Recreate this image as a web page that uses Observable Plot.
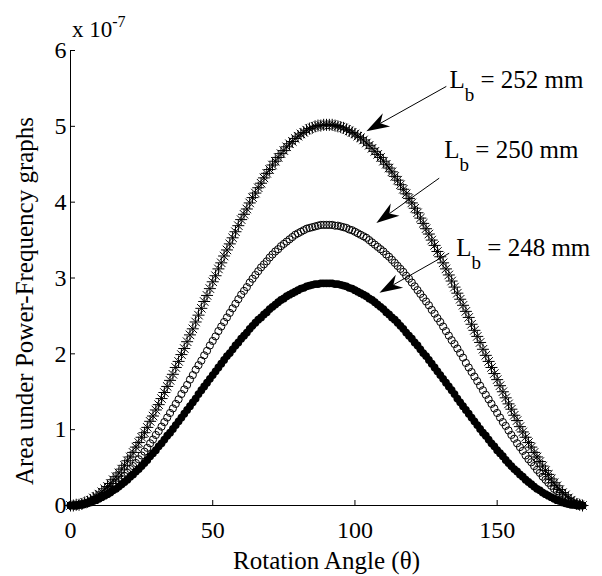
<!DOCTYPE html>
<html>
<head>
<meta charset="utf-8">
<script src="https://cdn.jsdelivr.net/npm/d3@7"></script>
<script src="https://cdn.jsdelivr.net/npm/@observablehq/plot@0.6"></script>
<style>
  html, body { margin: 0; padding: 0; background: #fff; }
  #chart svg { display: block; }
  #chart svg text { font-family: 'Liberation Serif', 'Times New Roman', serif !important; }
</style>
</head>
<body>
<div id="chart"></div>
<script>
// Rotation angle (degrees)
const angles = [0,1,2,3,4,5,6,7,8,9,10,11,12,13,14,15,16,17,18,19,20,21,22,23,24,25,26,27,28,29,30,31,32,33,34,35,36,37,38,39,40,41,42,43,44,45,46,47,48,49,50,51,52,53,54,55,56,57,58,59,60,61,62,63,64,65,66,67,68,69,70,71,72,73,74,75,76,77,78,79,80,81,82,83,84,85,86,87,88,89,90,91,92,93,94,95,96,97,98,99,100,101,102,103,104,105,106,107,108,109,110,111,112,113,114,115,116,117,118,119,120,121,122,123,124,125,126,127,128,129,130,131,132,133,134,135,136,137,138,139,140,141,142,143,144,145,146,147,148,149,150,151,152,153,154,155,156,157,158,159,160,161,162,163,164,165,166,167,168,169,170,171,172,173,174,175,176,177,178,179,180];

// Area under Power-Frequency graphs (x 1e-7)
const lb252 = [0.00,0.00,0.01,0.01,0.02,0.04,0.05,0.07,0.10,0.12,
0.15,0.18,0.22,0.25,0.29,0.34,0.38,0.43,0.48,0.53,
0.59,0.64,0.70,0.77,0.83,0.90,0.96,1.03,1.11,1.18,
1.26,1.33,1.41,1.49,1.57,1.65,1.73,1.82,1.90,1.99,
2.07,2.16,2.25,2.33,2.42,2.51,2.60,2.69,2.77,2.86,
2.95,3.03,3.12,3.20,3.29,3.37,3.45,3.53,3.61,3.69,
3.77,3.84,3.91,3.99,4.06,4.12,4.19,4.25,4.32,4.38,
4.43,4.49,4.54,4.59,4.64,4.68,4.73,4.77,4.80,4.84,
4.87,4.90,4.92,4.95,4.97,4.98,5.00,5.01,5.01,5.02,
5.02,
5.02,5.02,5.01,5.00,4.99,4.98,4.96,4.94,4.92,4.90,
4.87,4.85,4.82,4.78,4.75,4.71,4.67,4.63,4.59,4.54,
4.50,4.45,4.40,4.34,4.29,4.23,4.17,4.11,4.05,3.99,
3.92,3.86,3.79,3.72,3.65,3.58,3.50,3.43,3.35,3.28,
3.20,3.12,3.04,2.96,2.88,2.80,2.72,2.64,2.56,2.48,
2.39,2.31,2.23,2.15,2.06,1.98,1.90,1.82,1.74,1.66,
1.58,1.50,1.42,1.34,1.27,1.19,1.12,1.04,0.97,0.90,
0.83,0.77,0.70,0.64,0.58,0.52,0.46,0.41,0.35,0.30,
0.26,0.21,0.17,0.14,0.10,0.07,0.04,0.02,0.01,0.00];

const lb250 = [0.00,0.00,0.00,0.01,0.02,0.03,0.04,0.05,0.07,0.09,
0.11,0.13,0.16,0.19,0.22,0.25,0.28,0.32,0.35,0.39,
0.43,0.48,0.52,0.56,0.61,0.66,0.71,0.76,0.82,0.87,
0.93,0.98,1.04,1.10,1.16,1.22,1.28,1.34,1.40,1.47,
1.53,1.59,1.66,1.72,1.79,1.85,1.91,1.98,2.04,2.11,
2.17,2.23,2.30,2.36,2.42,2.48,2.54,2.60,2.66,2.72,
2.78,2.83,2.88,2.94,2.99,3.04,3.09,3.14,3.18,3.22,
3.27,3.31,3.35,3.38,3.42,3.45,3.48,3.51,3.54,3.57,
3.59,3.61,3.63,3.65,3.66,3.67,3.68,3.69,3.70,3.70,
3.70,
3.70,3.70,3.69,3.69,3.68,3.67,3.66,3.64,3.63,3.61,
3.59,3.57,3.55,3.53,3.50,3.47,3.44,3.41,3.38,3.35,
3.31,3.28,3.24,3.20,3.16,3.12,3.08,3.03,2.99,2.94,
2.89,2.84,2.79,2.74,2.69,2.64,2.58,2.53,2.47,2.42,
2.36,2.30,2.24,2.18,2.13,2.07,2.01,1.95,1.88,1.82,
1.76,1.70,1.64,1.58,1.52,1.46,1.40,1.34,1.28,1.22,
1.16,1.10,1.05,0.99,0.93,0.88,0.82,0.77,0.72,0.66,
0.61,0.57,0.52,0.47,0.43,0.38,0.34,0.30,0.26,0.22,
0.19,0.16,0.13,0.10,0.07,0.05,0.03,0.02,0.01,0.00];

const lb248 = [0.00,0.00,0.00,0.01,0.01,0.02,0.03,0.04,0.06,0.07,
0.09,0.11,0.13,0.15,0.17,0.20,0.22,0.25,0.28,0.31,
0.34,0.38,0.41,0.45,0.48,0.52,0.56,0.60,0.65,0.69,
0.73,0.78,0.82,0.87,0.92,0.96,1.01,1.06,1.11,1.16,
1.21,1.26,1.31,1.36,1.41,1.47,1.52,1.57,1.62,1.67,
1.72,1.77,1.82,1.87,1.92,1.97,2.01,2.06,2.11,2.15,
2.20,2.24,2.28,2.33,2.37,2.41,2.45,2.48,2.52,2.55,
2.59,2.62,2.65,2.68,2.71,2.73,2.76,2.78,2.80,2.82,
2.84,2.86,2.87,2.89,2.90,2.91,2.92,2.92,2.93,2.93,
2.93,
2.93,2.93,2.92,2.92,2.91,2.90,2.89,2.87,2.86,2.84,
2.82,2.80,2.78,2.76,2.73,2.71,2.68,2.65,2.62,2.59,
2.55,2.52,2.48,2.45,2.41,2.37,2.33,2.28,2.24,2.20,
2.15,2.11,2.06,2.01,1.97,1.92,1.87,1.82,1.77,1.72,
1.67,1.62,1.57,1.52,1.47,1.41,1.36,1.31,1.26,1.21,
1.16,1.11,1.06,1.01,0.96,0.92,0.87,0.82,0.78,0.73,
0.69,0.65,0.60,0.56,0.52,0.48,0.45,0.41,0.38,0.34,
0.31,0.28,0.25,0.22,0.20,0.17,0.15,0.13,0.11,0.09,
0.07,0.06,0.04,0.03,0.02,0.01,0.01,0.00,0.00,0.00];

const xTicks = [0, 50, 100, 150];
const yTicks = [0, 1, 2, 3, 4, 5, 6];

// Annotations (data units): label, arrow tail, arrow tip, text anchor
const annLabels = ["252 mm", "250 mm", "248 mm"];
const annTail = [[132.3, 5.52], [129.8, 4.31], [133.3, 3.32]];
const annTip  = [[104.2, 4.93], [107.7, 3.72], [108.8, 2.80]];
const annText = [[133.4, 5.50], [131.6, 4.57], [135.8, 3.28]];

const rows = (ys) => angles.map((a, i) => ({angle: a, value: ys[i]}));

const FONT = "'Liberation Serif', 'Times New Roman', serif";

// MATLAB-like '*' marker: '+' overlaid with 'x'
const starSymbol = {
  draw(context, size) {
    const r = Math.sqrt(size / Math.PI);
    const d = r * 0.7071;
    context.moveTo(-r, 0); context.lineTo(r, 0);
    context.moveTo(0, -r); context.lineTo(0, r);
    context.moveTo(-d, -d); context.lineTo(d, d);
    context.moveTo(-d, d); context.lineTo(d, -d);
  }
};

function annotations(index, {x, y}) {
  const g = d3.create("svg:g").attr("text-anchor", "start");
  // exponent label
  const t0 = g.append("text")
    .attr("x", x(0) + 2).attr("y", y(6) - 13).attr("text-anchor", "start")
    .attr("font-family", FONT).attr("font-size", 23).attr("fill", "#000");
  t0.append("tspan").text("x 10");
  t0.append("tspan").attr("dy", -10).attr("font-size", 16).text("-7");

  annLabels.forEach((lab, i) => {
    const [tx, ty] = annTail[i];
    const [hx, hy] = annTip[i];
    const x1 = x(tx), y1 = y(ty), x2 = x(hx), y2 = y(hy);
    const ang = Math.atan2(y2 - y1, x2 - x1);
    const L = 23, W = 7.5, N = 16;
    const ux = Math.cos(ang), uy = Math.sin(ang);
    const px = -uy, py = ux;
    const bx = x2 - ux * L, by = y2 - uy * L;
    const nx = x2 - ux * N, ny = y2 - uy * N;
    g.append("line")
      .attr("x1", x1).attr("y1", y1).attr("x2", nx).attr("y2", ny)
      .attr("stroke", "#000").attr("stroke-width", 1);
    g.append("path")
      .attr("d", `M${x2},${y2}L${bx + px * W},${by + py * W}L${nx},${ny}L${bx - px * W},${by - py * W}Z`)
      .attr("fill", "#000");
    const [lx, ly] = annText[i];
    const t = g.append("text")
      .attr("x", x(lx)).attr("y", y(ly)).attr("text-anchor", "start")
      .attr("font-family", FONT).attr("font-size", 25).attr("fill", "#000");
    t.append("tspan").text("L");
    t.append("tspan").attr("dy", 13).attr("font-size", 19).text("b");
    t.append("tspan").attr("dy", -13).text(" = " + lab);
  });
  return g.node();
}

const chart = Plot.plot({
  width: 602,
  height: 576,
  marginLeft: 70,
  marginRight: 20,
  marginTop: 50,
  marginBottom: 71,
  style: {fontFamily: FONT, fontSize: "24px", color: "#000", background: "#fff"},
  x: {domain: [0, 180]},
  y: {domain: [0, 6]},
  marks: [
    Plot.ruleY([0], {stroke: "#000", strokeWidth: 1}),
    Plot.ruleX([0], {stroke: "#000", strokeWidth: 1}),
    Plot.axisX({ticks: xTicks, tickSize: -5, tickPadding: 20, tickFormat: d => String(d), label: null, fontSize: 24, fontFamily: FONT}),
    Plot.axisY({ticks: yTicks, tickSize: -5, tickPadding: 9, tickFormat: d => String(d), label: null, fontSize: 24, fontFamily: FONT}),
    Plot.text(["Rotation Angle (θ)"], {frameAnchor: "bottom", textAnchor: "middle", lineAnchor: "middle", dy: 55, fontSize: 25, fontFamily: FONT}),
    Plot.text(["Area under Power-Frequency graphs"], {frameAnchor: "left", textAnchor: "middle", lineAnchor: "middle", dx: -46, dy: 23, rotate: -90, fontSize: 25, fontFamily: FONT}),
    Plot.dot(rows(lb248), {x: "angle", y: "value", r: 3.9, fill: "#000", stroke: "none"}),
    Plot.dot(rows(lb250), {x: "angle", y: "value", r: 3.6, fill: "none", stroke: "#000", strokeWidth: 1}),
    Plot.dot(rows(lb252), {x: "angle", y: "value", r: 6, symbol: starSymbol, fill: "none", stroke: "#000", strokeWidth: 1}),
    annotations
  ]
});
document.getElementById("chart").appendChild(chart);
</script>
</body>
</html>
